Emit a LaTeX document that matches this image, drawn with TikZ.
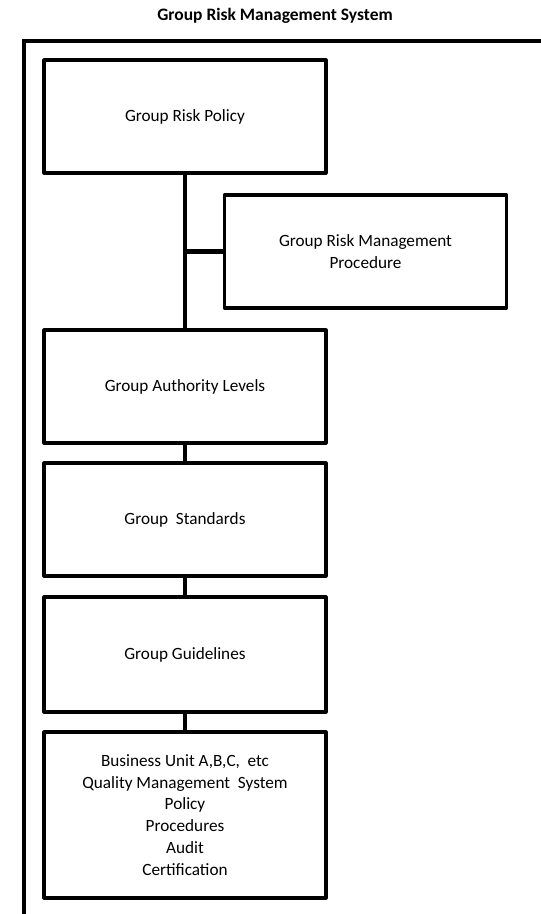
\documentclass[tikz,border=0pt]{standalone}
\usepackage{fontspec}
\setmainfont{Carlito}
\usepackage{tikz}

\begin{document}
\begin{tikzpicture}[x=0.75pt, y=-0.75pt,
		box_style/.style={draw=black,line width=2.3pt,line join=round,fill=white,minimum width=282*0.75pt,align=center,font=\fontsize{12.9}{16.4}\selectfont},
		title_style/.style={font=\fontsize{13.1}{15}\selectfont\bfseries},
		edge_style/.style={draw=black,line width=3.2pt},
		frame_style/.style={draw=black,line width=2.8pt}]
		
		\useasboundingbox (0,0) rectangle (541,914);
		
		\node[title_style] (title) at (275,16) {Group Risk Management System};
		\draw[frame_style] (24,914) -- (24,41) -- (541,41);
		
		\node[box_style,minimum height=113*0.75pt] (n0) at (185,116.5) {Group Risk Policy};
		\node[box_style,minimum height=113*0.75pt] (n1) at (365.5,251.5) {Group Risk Management\\Procedure};
		\node[box_style,minimum height=113*0.75pt] (n2) at (185,386.5) {Group Authority Levels};
		\node[box_style,minimum height=113*0.75pt] (n3) at (185,519.5) {Group~ Standards};
		\node[box_style,minimum height=115*0.75pt] (n4) at (185,654.5) {Group Guidelines};
		\node[box_style,minimum height=166*0.75pt] (n5) at (185,815) {Business Unit A,B,C,~ etc\\Quality Management~ System\\Policy\\Procedures\\Audit\\Certification};
		
		\draw[edge_style]  (n0) edge (n2);
		\draw[edge_style]  (n1.west -| n0) edge (n1.west);
		\draw[edge_style]  (n2) edge (n3);
		\draw[edge_style]  (n3) edge (n4);
		\draw[edge_style]  (n4) edge (n5);
		
\end{tikzpicture}
\end{document}
